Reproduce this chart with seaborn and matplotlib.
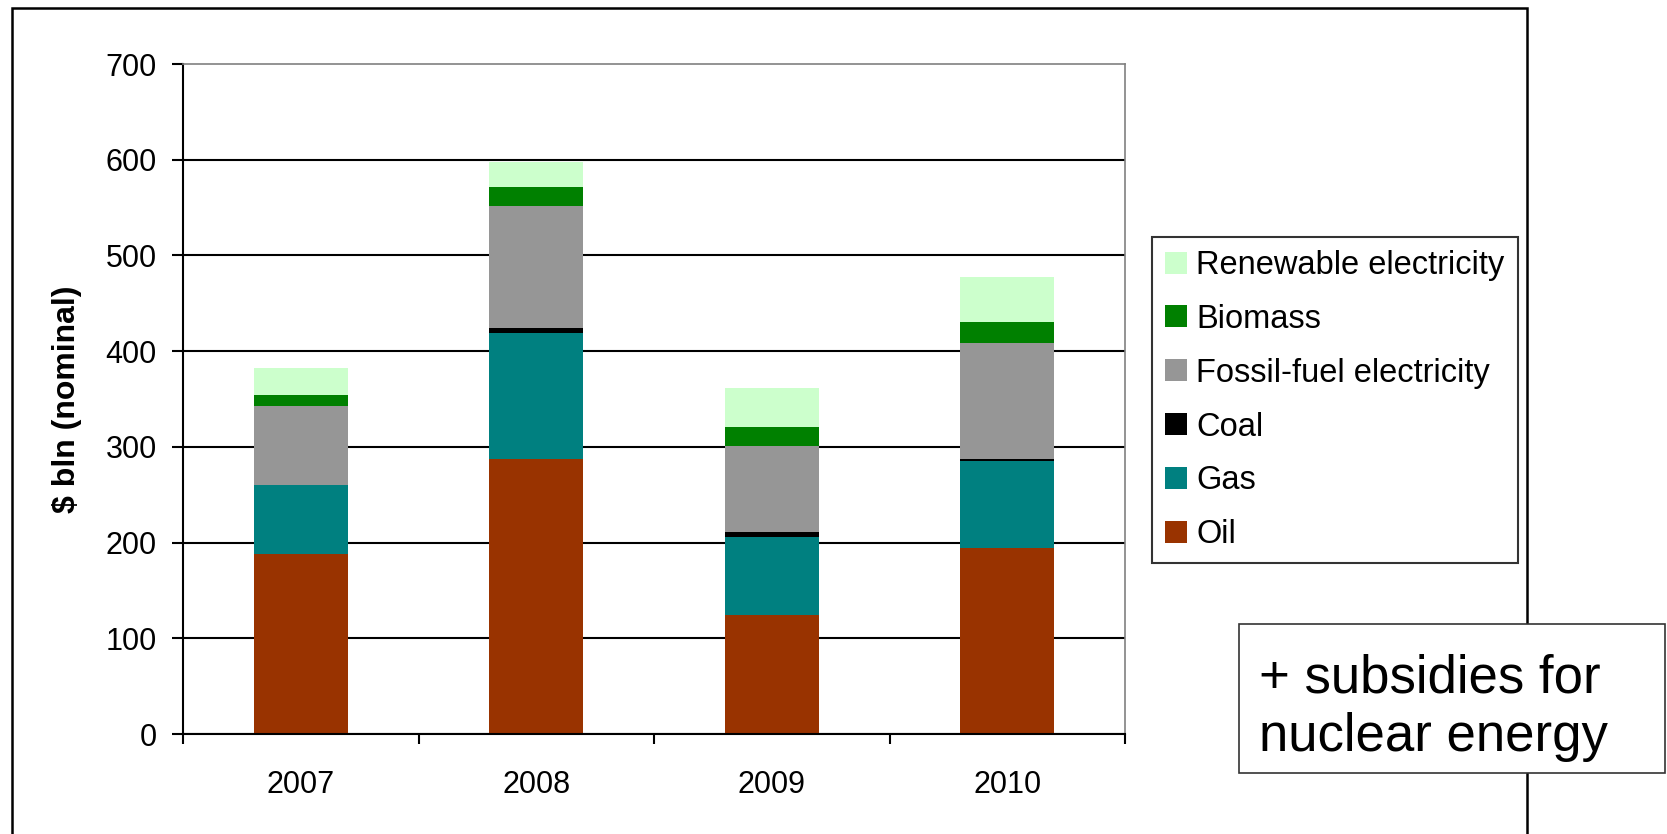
import matplotlib
matplotlib.use('Agg')
import matplotlib.pyplot as plt
from matplotlib.patches import Rectangle
import seaborn as sns
import numpy as np

# Subsidies by energy type, $ bln (nominal)
years = ['2007', '2008', '2009', '2010']
oil = [188, 287, 124, 194]
gas = [72, 132, 82, 91]
coal = [0, 5, 5, 2]
fossil_elec = [83, 128, 90, 122]
biomass = [11, 19, 20, 21]
renewable = [28, 27, 40, 47]

names = ['Oil', 'Gas', 'Coal', 'Fossil-fuel electricity', 'Biomass', 'Renewable electricity']
colors = ['#993300', '#008080', '#000000', '#969696', '#008000', '#CCFFCC']

sns.set_theme(style='white')
plt.rcParams['font.family'] = ['Liberation Sans', 'DejaVu Sans']
plt.rcParams['text.color'] = 'black'
plt.rcParams['xtick.color'] = 'black'
plt.rcParams['ytick.color'] = 'black'
plt.rcParams['axes.labelcolor'] = 'black'

W, H = 1667, 834
fig = plt.figure(figsize=(W / 100, H / 100), dpi=100)
ax = fig.add_axes([183 / W, 100 / H, 942 / W, 670 / H])

# stacked bars: draw cumulative totals from the top layer down
cum = np.cumsum(np.array([oil, gas, coal, fossil_elec, biomass, renewable]), axis=0)
for i in reversed(range(len(names))):
    sns.barplot(x=years, y=cum[i], color=colors[i], width=0.4, saturation=1,
                linewidth=0, errorbar=None, label=names[i], ax=ax)

if ax.get_legend() is not None:
    ax.get_legend().remove()

ax.set_ylim(0, 700)
ax.set_yticks(range(0, 800, 100))
ax.set_xlim(-0.5, 3.5)
ax.set_xticks(np.arange(-0.5, 4, 1))
ax.set_xticklabels([''] * 5)
ax.set_xticks(range(4), minor=True)
ax.set_xticklabels(years, minor=True)
ax.set_xlabel('')
ax.set_ylabel('')

ax.tick_params(axis='x', which='major', length=7, width=1.5, direction='out',
               color='black', bottom=True)
ax.tick_params(axis='x', which='minor', length=0, pad=26, labelsize=22,
               labelcolor='black')
ax.tick_params(axis='y', length=8, width=1.5, direction='out', color='black',
               left=True, pad=11, labelsize=22, labelcolor='black')

ax.yaxis.grid(True, color='black', linewidth=1.5)
ax.set_axisbelow(True)
ax.get_ygridlines()[-1].set_visible(False)

for side in ['left', 'bottom']:
    ax.spines[side].set_color('black')
    ax.spines[side].set_linewidth(1.5)
for side in ['top', 'right']:
    ax.spines[side].set_color('#808080')
    ax.spines[side].set_linewidth(1.2)

fig.text(67 / W, 1 - 399 / H, '$ bln (nominal)', rotation=90, fontsize=23,
         fontweight='bold', ha='center', va='center', color='black')

handles, labels = ax.get_legend_handles_labels()
leg = fig.legend(handles, labels, loc='upper left',
                 bbox_to_anchor=(1152 / W, 1 - 237 / H), bbox_transform=fig.transFigure,
                 frameon=True, fancybox=False, edgecolor='black', fontsize=23.5,
                 handlelength=0.66, handleheight=0.66, handletextpad=0.3,
                 labelspacing=0.70, borderpad=0.4, borderaxespad=0)
leg.get_frame().set_linewidth(1.5)
for t in leg.get_texts():
    t.set_color('black')

# outer frame around the chart
fig.add_artist(Rectangle((12 / W, -0.1), 1515 / W, 826 / H + 0.1, transform=fig.transFigure,
                         fill=False, edgecolor='black', linewidth=1.8, zorder=4))

# note box
fig.add_artist(Rectangle((1239 / W, 61 / H), 426 / W, 149.5 / H, transform=fig.transFigure,
                         facecolor='white', edgecolor='#333333', linewidth=1.2, zorder=5))
fig.text(1259 / W, 1 - 708 / H, '+ subsidies for\nnuclear energy', fontsize=38,
         ha='left', va='center', linespacing=1.22, zorder=6, color='black')

fig.savefig('out.png', dpi=100)
